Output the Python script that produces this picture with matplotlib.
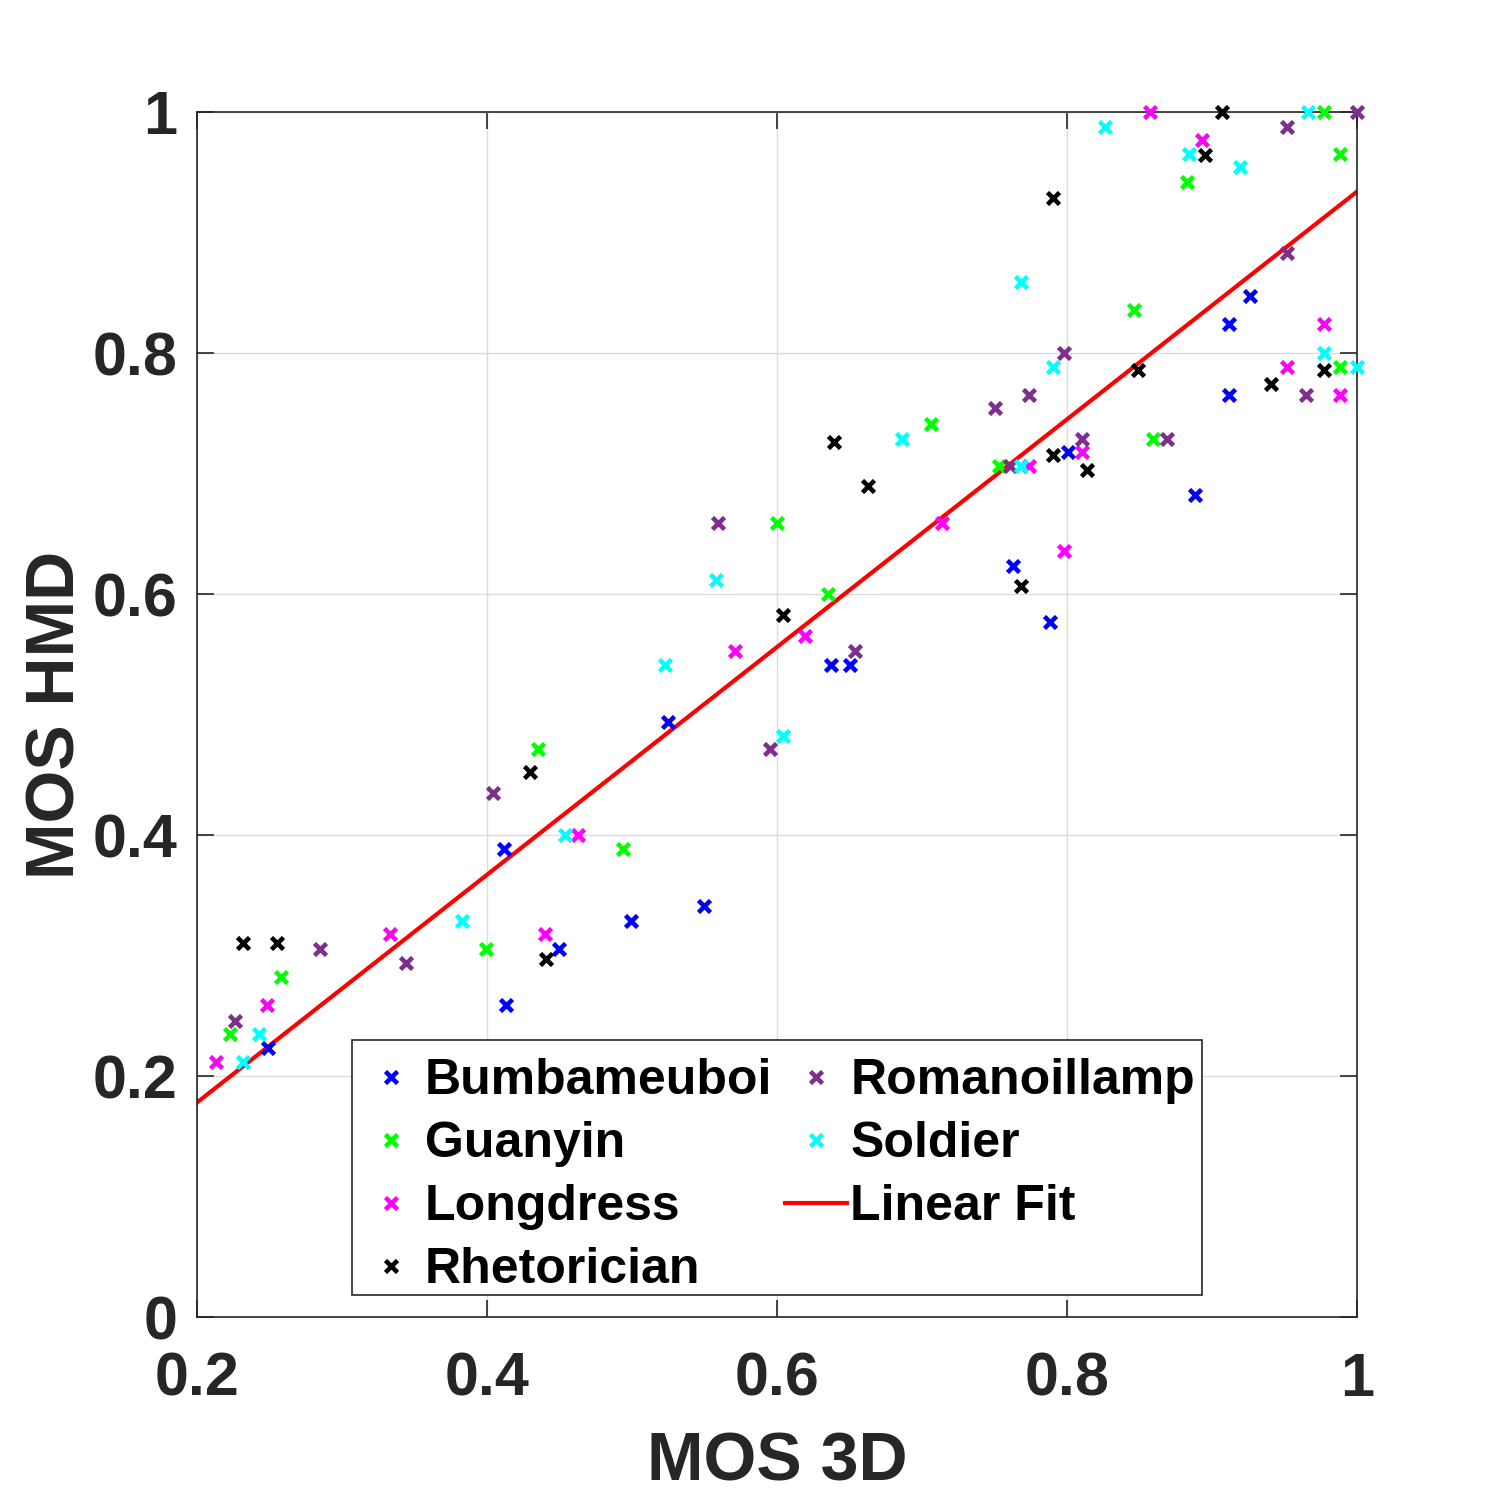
import matplotlib
matplotlib.use("Agg")
import matplotlib.pyplot as plt
from matplotlib.patches import Rectangle
import numpy as np

plt.rcParams['font.family'] = ['Liberation Sans', 'DejaVu Sans']
plt.rcParams['font.weight'] = 'bold'

names = ["Bumbameuboi", "Guanyin", "Longdress", "Rhetorician", "Romanoillamp", "Soldier"]
colors = ["#0000FF", "#00FF00", "#FF00FF", "#000000", "#7E2F8E", "#00FFFF"]

bumb_x = [0.249, 0.412, 0.413, 0.450, 0.499, 0.525, 0.550, 0.637, 0.650, 0.763, 0.788, 0.801, 0.888, 0.912, 0.926, 0.912]
bumb_y = [0.223, 0.388, 0.259, 0.305, 0.329, 0.494, 0.341, 0.541, 0.541, 0.623, 0.577, 0.718, 0.682, 0.824, 0.847, 0.765]

guan_x = [0.223, 0.258, 0.399, 0.435, 0.494, 0.600, 0.635, 0.706, 0.753, 0.846, 0.859, 0.883, 0.977, 0.988, 0.988]
guan_y = [0.235, 0.282, 0.305, 0.471, 0.388, 0.659, 0.600, 0.741, 0.706, 0.836, 0.729, 0.942, 1.000, 0.965, 0.788]

long_x = [0.213, 0.248, 0.333, 0.440, 0.463, 0.571, 0.619, 0.714, 0.774, 0.798, 0.810, 0.857, 0.893, 0.952, 0.977, 0.988]
long_y = [0.212, 0.259, 0.318, 0.318, 0.400, 0.553, 0.565, 0.659, 0.706, 0.636, 0.718, 1.000, 0.977, 0.788, 0.824, 0.765]

rhet_x = [0.232, 0.255, 0.430, 0.441, 0.604, 0.639, 0.663, 0.768, 0.790, 0.790, 0.814, 0.849, 0.895, 0.907, 0.941, 0.977]
rhet_y = [0.310, 0.310, 0.452, 0.297, 0.583, 0.726, 0.690, 0.607, 0.929, 0.715, 0.703, 0.786, 0.964, 1.000, 0.774, 0.786]

roma_x = [0.226, 0.285, 0.344, 0.404, 0.559, 0.595, 0.654, 0.750, 0.761, 0.774, 0.798, 0.810, 0.869, 0.952, 0.952, 0.965, 1.000]
roma_y = [0.246, 0.305, 0.294, 0.435, 0.659, 0.471, 0.553, 0.754, 0.706, 0.765, 0.800, 0.729, 0.729, 0.988, 0.883, 0.765, 1.000]

sold_x = [0.232, 0.243, 0.383, 0.454, 0.523, 0.558, 0.604, 0.686, 0.768, 0.768, 0.790, 0.826, 0.884, 0.919, 0.966, 0.977, 1.000]
sold_y = [0.212, 0.235, 0.329, 0.400, 0.541, 0.612, 0.482, 0.729, 0.859, 0.706, 0.788, 0.988, 0.965, 0.954, 1.000, 0.800, 0.788]

fit_slope = 0.945
fit_intercept = -0.011
fit_x = [0.2, 1.0]

series_x = [bumb_x, guan_x, long_x, rhet_x, roma_x, sold_x]
series_y = [bumb_y, guan_y, long_y, rhet_y, roma_y, sold_y]

fig = plt.figure(figsize=(15, 15), dpi=100)
ax = fig.add_axes([0.1313, 0.122, 0.7734, 0.8033])

for xs, ys, c, n in zip(series_x, series_y, colors, names):
    ax.plot(xs, ys, linestyle='none', marker='x', color=c, markersize=9,
            markeredgewidth=3.3, label=n, zorder=3, clip_on=False)

fx = np.array(fit_x)
ax.plot(fx, fit_slope * fx + fit_intercept, color='#FF0000', linewidth=3, label='Linear Fit', zorder=2)

ax.set_xlim(0.2, 1.0)
ax.set_ylim(0, 1.0)
xt = [0.2, 0.4, 0.6, 0.8, 1.0]
yt = [0, 0.2, 0.4, 0.6, 0.8, 1.0]
ax.set_xticks(xt)
ax.set_yticks(yt)
ax.set_xticklabels(["0.2", "0.4", "0.6", "0.8", "1"])
ax.set_yticklabels(["0", "0.2", "0.4", "0.6", "0.8", "1"])
ax.tick_params(direction='in', length=12, width=1.2, top=True, right=True,
               labelsize=44, colors='#262626')
ax.tick_params(axis='x', pad=25)
ax.tick_params(axis='y', pad=14)
for lab in ax.get_xticklabels() + ax.get_yticklabels():
    lab.set_fontweight('bold')
ax.grid(True, color='#DCDCDC', linewidth=1)
ax.set_axisbelow(True)
for s in ax.spines.values():
    s.set_linewidth(1.2)
    s.set_color('#262626')

ax.set_xlabel("MOS 3D", fontsize=49, fontweight='bold', color='#262626', labelpad=16)
ax.set_ylabel("MOS HMD", fontsize=49, fontweight='bold', color='#262626', labelpad=3)

# legend box (frame drawn separately to match padding)
frame = Rectangle((352 / 1500, 205 / 1500), 850 / 1500, 255 / 1500,
                  transform=fig.transFigure, facecolor='white', edgecolor='#262626',
                  linewidth=1.2, zorder=4, clip_on=False)
ax.add_patch(frame)

leg = ax.legend(ncol=2, loc='lower left', bbox_to_anchor=(0.2347, 0.1327),
                bbox_transform=fig.transFigure, borderaxespad=0,
                prop={'weight': 'bold', 'size': 36}, frameon=False,
                handlelength=1.25, handletextpad=0.06, columnspacing=0.25,
                labelspacing=0.34, borderpad=0.15, markerscale=1.0)
leg.set_zorder(5)

fig.savefig("out.png", dpi=100)
